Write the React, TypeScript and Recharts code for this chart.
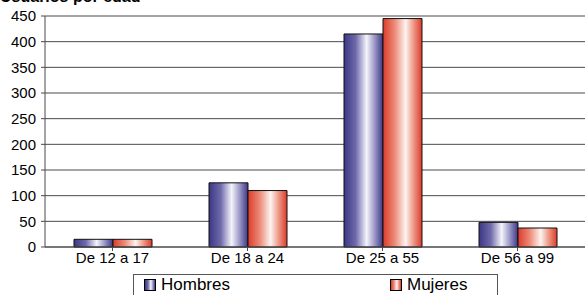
import { BarChart, Bar, XAxis, YAxis, CartesianGrid } from "recharts";

const categories = ["De 12 a 17", "De 18 a 24", "De 25 a 55", "De 56 a 99"];
const hombres = [15, 125, 415, 48];
const mujeres = [15, 110, 445, 37];
const yTicks = [0, 50, 100, 150, 200, 250, 300, 350, 400, 450];

const chartData = categories.map((name, i) => ({
  name,
  hombres: hombres[i],
  mujeres: mujeres[i],
}));

const font = "'Liberation Sans', Arial, sans-serif";

const LegendSwatch = ({ grad }: { grad: string }) => (
  <span
    style={{
      display: "inline-block",
      width: 10,
      height: 10,
      border: "1px solid #000",
      background: grad,
      marginRight: 5,
      verticalAlign: "-1px",
    }}
  />
);

const blueGrad =
  "linear-gradient(to right, #3c3785 0%, #6e6aaa 30%, #f4f4fb 58%, #9d9ac8 78%, #3c3785 100%)";
const redGrad =
  "linear-gradient(to right, #dc3b2b 0%, #ec8a78 30%, #fdf3f0 58%, #ee9a88 78%, #dc3b2b 100%)";

const App = () => {
  return (
    <div
      style={{
        position: "absolute",
        left: 0,
        top: 0,
        width: 585,
        height: 295,
        overflow: "hidden",
        background: "#fff",
        fontFamily: font,
      }}
    >
      <div
        style={{
          position: "absolute",
          left: 0,
          top: -12,
          fontSize: 16,
          fontWeight: "bold",
          whiteSpace: "nowrap",
        }}
      >
        Usuarios por edad
      </div>
      <BarChart
        width={585}
        height={295}
        data={chartData}
        margin={{ top: 16, right: 0, bottom: 20, left: 0 }}
        barCategoryGap={29}
        barGap={0}
      >
        <defs>
          <linearGradient id="gBlue" x1="0" y1="0" x2="1" y2="0">
            <stop offset="0%" stopColor="#3c3785" />
            <stop offset="30%" stopColor="#6e6aaa" />
            <stop offset="58%" stopColor="#f4f4fb" />
            <stop offset="78%" stopColor="#9d9ac8" />
            <stop offset="100%" stopColor="#3c3785" />
          </linearGradient>
          <linearGradient id="gRed" x1="0" y1="0" x2="1" y2="0">
            <stop offset="0%" stopColor="#dc3b2b" />
            <stop offset="30%" stopColor="#ec8a78" />
            <stop offset="58%" stopColor="#fdf3f0" />
            <stop offset="78%" stopColor="#ee9a88" />
            <stop offset="100%" stopColor="#dc3b2b" />
          </linearGradient>
        </defs>
        <CartesianGrid vertical={false} stroke="#4a4a4a" strokeWidth={1} />
        <XAxis
          dataKey="name"
          height={28}
          stroke="#4a4a4a"
          tickSize={4}
          tickMargin={1}
          tick={{ fontSize: 15, fill: "#000", fontFamily: font }}
        />
        <YAxis
          width={45}
          domain={[0, 450]}
          ticks={yTicks}
          interval={0}
          stroke="#4a4a4a"
          tickSize={4}
          tickMargin={5}
          tick={{ fontSize: 15, fill: "#000", fontFamily: font }}
        />
        <Bar
          dataKey="hombres"
          fill="url(#gBlue)"
          stroke="#111"
          strokeWidth={1}
          isAnimationActive={false}
        />
        <Bar
          dataKey="mujeres"
          fill="url(#gRed)"
          stroke="#111"
          strokeWidth={1}
          isAnimationActive={false}
        />
      </BarChart>
      <div
        style={{
          position: "absolute",
          left: 133,
          top: 274,
          width: 365,
          height: 30,
          border: "1px solid #555",
          fontSize: 17,
          boxSizing: "border-box",
        }}
      >
        <div style={{ position: "absolute", left: 10, top: 0, whiteSpace: "nowrap" }}>
          <LegendSwatch grad={blueGrad} />
          Hombres
        </div>
        <div style={{ position: "absolute", left: 256, top: 0, whiteSpace: "nowrap" }}>
          <LegendSwatch grad={redGrad} />
          Mujeres
        </div>
      </div>
    </div>
  );
};

export default App;
